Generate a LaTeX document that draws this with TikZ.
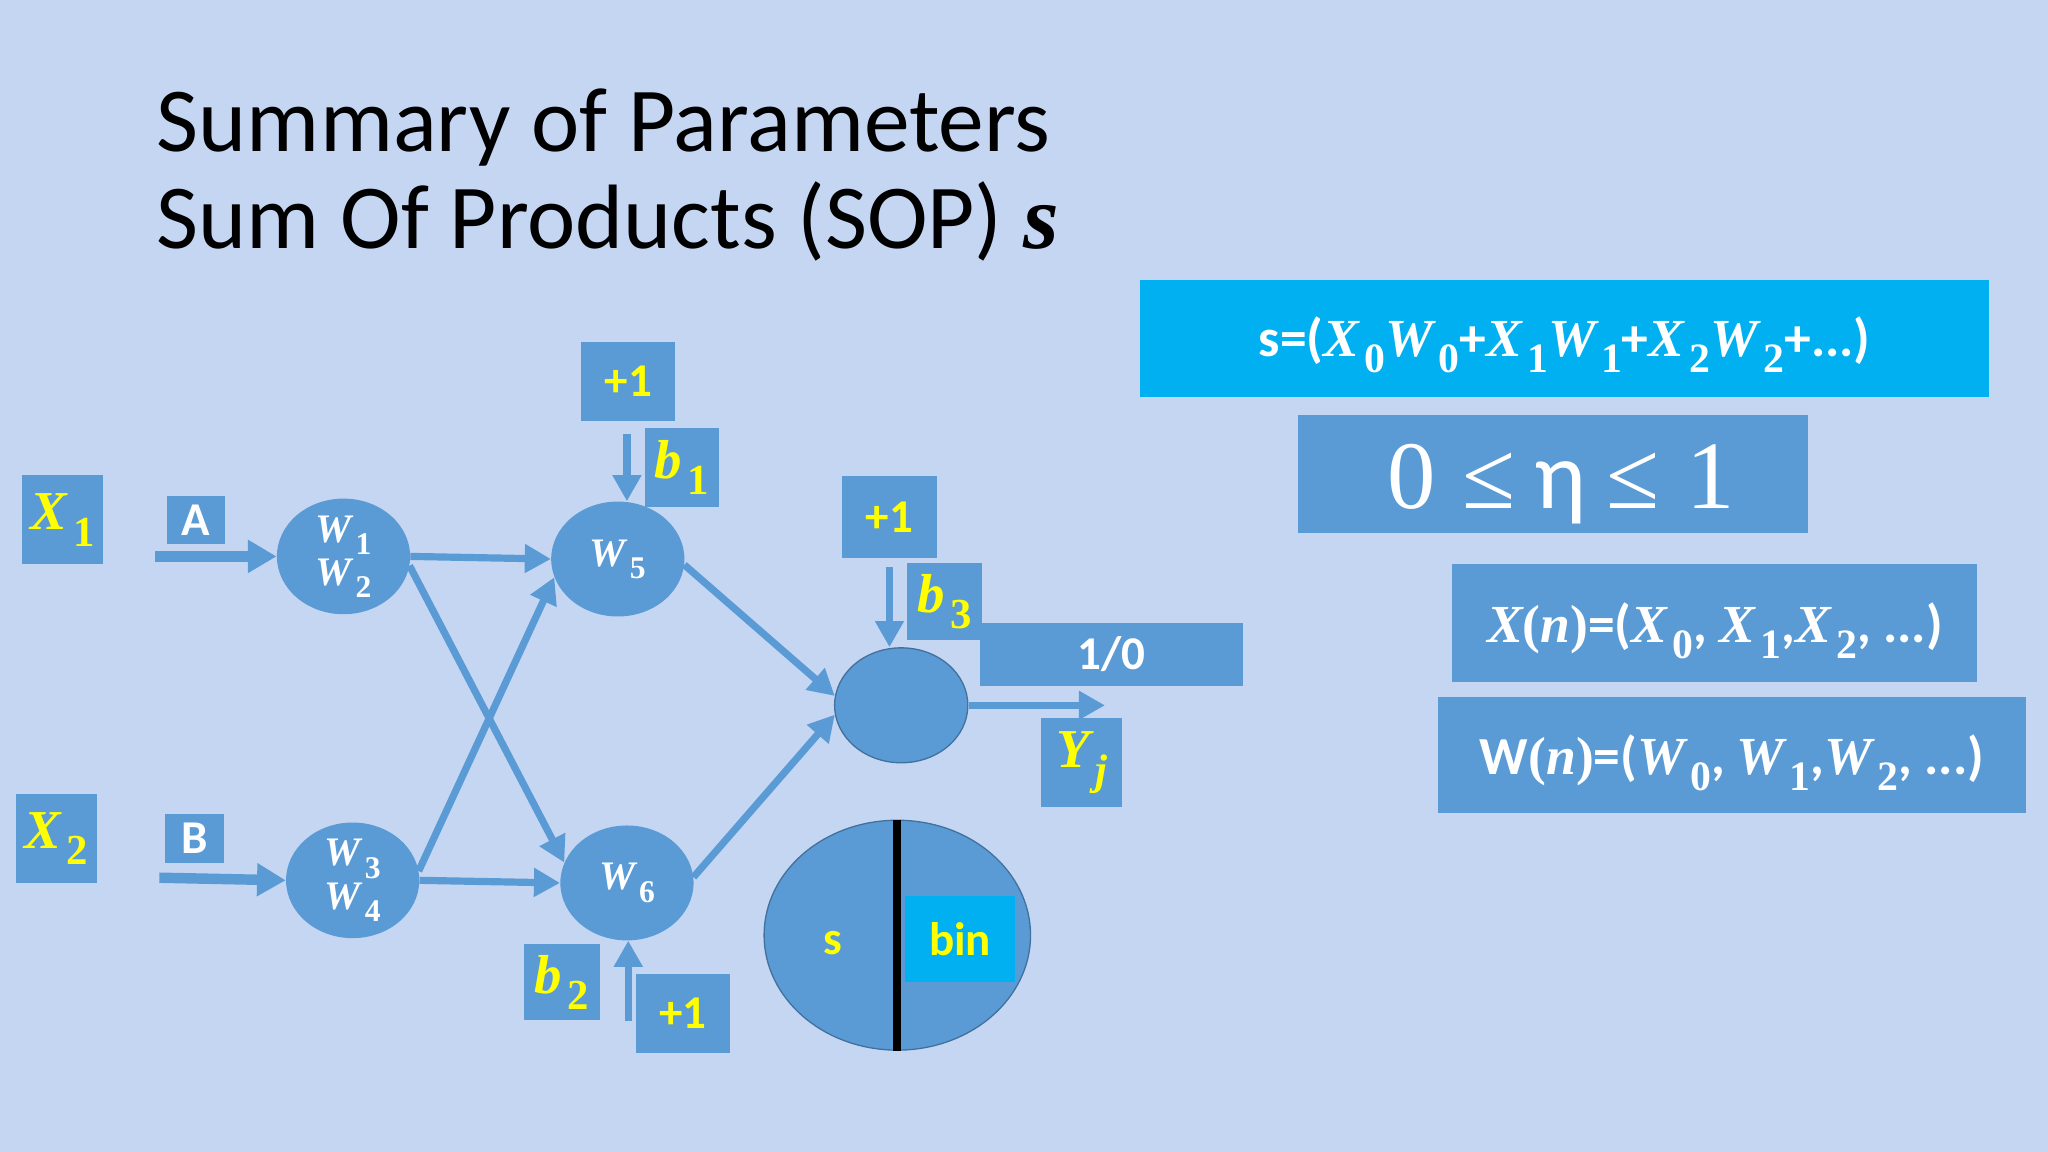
\RequirePackage{fix-cm}
\documentclass[tikz,border=0pt]{standalone}
\usepackage{fontspec}
\setmainfont{Carlito}
\newfontfamily\srf{Liberation Serif}
\usetikzlibrary{arrows.meta,shapes.geometric}
\definecolor{bg}{HTML}{C5D6F3}
\definecolor{mblue}{HTML}{5B9BD5}
\definecolor{cyanb}{HTML}{00B0F0}
\definecolor{yel}{HTML}{FFFF00}
\definecolor{edgeb}{HTML}{41719C}
\newcommand{\fs}[1]{\fontsize{#1}{#1}\selectfont}
% bold italic serif variable with bold upright subscript
\newcommand{\vr}[2]{{\srf\bfseries\itshape #1}\kern0.1em\raisebox{-0.3em}{\scalebox{0.78}{\srf\bfseries #2}}}
\tikzset{
  box/.style={fill=mblue, draw=none, inner sep=0pt, rectangle},
  cbox/.style={fill=cyanb, draw=none, inner sep=0pt, rectangle},
  neuron/.style={ellipse, fill=mblue, draw=none, minimum width=102pt, minimum height=88pt, inner sep=0pt, text=white},
  conn/.style={draw=mblue, line width=5.5pt, -{Triangle[length=20pt,width=21pt]}},
  bigconn/.style={draw=mblue, line width=8pt, -{Triangle[length=22pt,width=24pt]}},
  ylab/.style={text=yel, font=\bfseries\fs{36}},
  wlab/.style={text=white, font=\bfseries\fs{36}},
  vlab/.style={text=yel, font=\fs{42}},
}
\begin{document}
\begin{tikzpicture}[x=1pt,y=-1pt]
\fill[bg] (0,0) rectangle (1568,882);
\useasboundingbox (0,0) rectangle (1568,882);

% title
\node[anchor=base west, inner sep=0pt, font=\fs{70}] (t1) at (120,116) {Summary of Parameters};
\node[anchor=base west, inner sep=0pt, font=\fs{70}] (t2) at (120,190) {Sum Of Products (SOP) {\srf\bfseries\itshape s}};

% right formula boxes
\node[cbox, minimum width=650pt, minimum height=90pt] (sop) at (1198,259) {};
\node[anchor=base, inner sep=0pt, text=white, font=\bfseries\fs{41}] (sopt) at (1198,273)
  {s=(\vr{X}{0}\vr{W}{0}+\vr{X}{1}\vr{W}{1}+\vr{X}{2}\vr{W}{2}+...)};
\node[box, minimum width=390pt, minimum height=90pt] (eta) at (1189,363) {};
\node[anchor=base, inner sep=0pt, text=white, font=\fs{74}] (etat) at (1195,389)
  {{\srf 0}\hspace{0.28em}{\srf ≤}\hspace{0.2em}η\hspace{0.2em}{\srf ≤}\hspace{0.28em}{\srf 1}};
\node[box, minimum width=402pt, minimum height=90pt] (xn) at (1313,477) {};
\node[anchor=base, inner sep=0pt, text=white, font=\bfseries\fs{41}] (xnt) at (1313,492)
  {{\srf\bfseries\itshape X}{\srf\bfseries(}{\srf\bfseries\itshape n}{\srf\bfseries)}=(\vr{X}{0}, \vr{X}{1},\vr{X}{2}, ...)};
\node[box, minimum width=450pt, minimum height=89pt] (wn) at (1326,578) {};
\node[anchor=base, inner sep=0pt, text=white, font=\bfseries\fs{41}] (wnt) at (1326,593)
  {W{\srf\bfseries(}{\srf\bfseries\itshape n}{\srf\bfseries)}=(\vr{W}{0}, \vr{W}{1},\vr{W}{2}, ...)};

% inputs
\node[box, minimum width=62pt, minimum height=68pt, vlab] (x1) at (48,398) {\vr{X}{1}};
\node[box, minimum width=62pt, minimum height=68pt, vlab] (x2) at (43,642) {\vr{X}{2}};
\node[box, minimum width=45pt, minimum height=37pt, wlab] (a) at (150,398) {A};
\node[box, minimum width=45pt, minimum height=37pt, wlab] (b) at (149,642) {B};

% neurons
\node[neuron, font=\fontsize{31}{33}\selectfont, align=center] (w12) at (263,426) {\vr{W}{1}\\\vr{W}{2}};
\node[neuron, font=\fontsize{31}{33}\selectfont, align=center] (w34) at (270,674) {\vr{W}{3}\\\vr{W}{4}};
\node[neuron, font=\fs{31}] (w5) at (473,428) {\vr{W}{5}};
\node[neuron, font=\fs{31}] (w6) at (480,676) {\vr{W}{6}};
\node[neuron, draw=edgeb, line width=1pt] (out) at (690,540) {};

% bias boxes
\node[box, minimum width=72pt, minimum height=61pt, ylab] (p1) at (481,292) {+1};
\node[box, minimum width=57pt, minimum height=60pt, vlab] (b1) at (522,358) {\vr{b}{1}};
\node[box, minimum width=58pt, minimum height=58pt, vlab] (b2) at (430,752) {\vr{b}{2}};
\node[box, minimum width=72pt, minimum height=61pt, ylab] (p2) at (523,776) {+1};
\node[box, minimum width=72pt, minimum height=63pt, ylab] (p3) at (681,396) {+1};
\node[box, minimum width=202pt, minimum height=48pt, wlab] (o10) at (851,501) {1/0};
\node[box, minimum width=58pt, minimum height=59pt, vlab, anchor=north west] (b3) at (694,431) {\vr{b}{3}};
\node[box, minimum width=62pt, minimum height=68pt, vlab] (yj) at (828,584) {\vr{Y}{\itshape j}};

% input arrows
\coordinate (as) at (119,426);
\coordinate (bs) at (122,672);
\draw[bigconn] (as) -- (w12.west);
\draw[bigconn] (bs) -- (w34.west);

% hidden connections
\draw[conn] (w12.east) -- (w5.west);
\draw[conn] (w12.-8) -- (w6.162);
\draw[conn] (w34.8) -- (w5.196);
\draw[conn] (w34.east) -- (w6.west);
\draw[conn] (w5.-5) -- (out.172);
\draw[conn] (w6.5) -- (out.188);
\coordinate (ye) at (846,540);
\draw[conn] (out.east) -- (ye);

% bias arrows
\coordinate (c1) at (480,332);
\draw[conn] (c1) -- (c1 |- w5.north);
\coordinate (c2) at (481,782);
\draw[conn] (c2) -- (c2 |- w6.south);
\coordinate (c3) at (681,434);
\draw[conn] (c3) -- (c3 |- out.north);

% big circle
\node[ellipse, fill=mblue, draw=edgeb, line width=1pt, minimum width=204pt, minimum height=176pt, inner sep=0pt] (big) at (687,716) {};
\draw[black, line width=6pt] (big.north) -- (big.south);
\node[ylab] (s) at (638,722) {s};
\node[cbox, minimum width=84pt, minimum height=66pt, ylab] (bin) at (735,719) {bin};
\end{tikzpicture}
\end{document}
